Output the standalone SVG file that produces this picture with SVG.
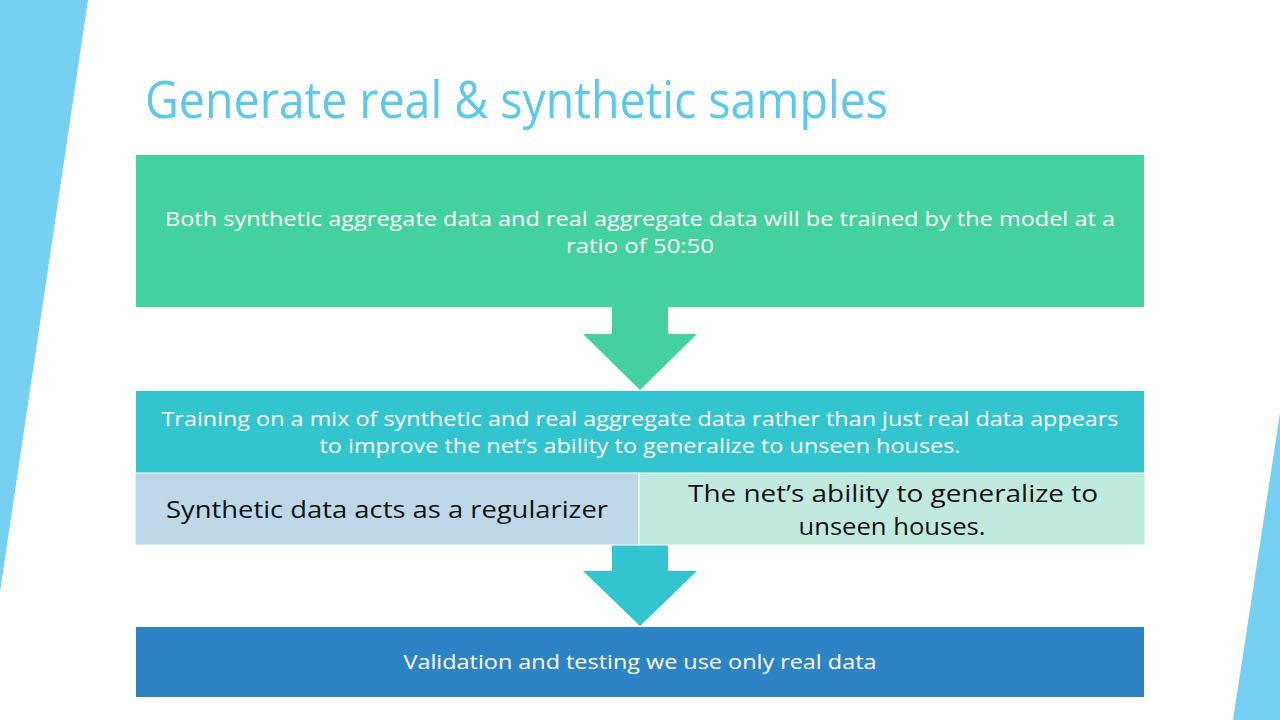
<svg xmlns="http://www.w3.org/2000/svg" width="1280" height="720" viewBox="0 0 1280 720">
  <style>
    .t { font-family: "Open Sans", "Liberation Sans", sans-serif; text-anchor: middle; }
    .w { fill: #ffffff; font-size: 20px; }
    .k { fill: #111111; font-size: 24px; }
    .title { font-family: "Open Sans", "Liberation Sans", sans-serif; fill: #5BC8EC; font-size: 52px; }
  </style>
  <rect width="1280" height="720" fill="#ffffff"/>
  <!-- side accents -->
  <polygon points="0,0 88,0 0,592" fill="#75D0F2"/>
  <polygon points="1280,413 1280,720 1233,720" fill="#75D0F2"/>

  <text class="title" x="145" y="118" textLength="743" lengthAdjust="spacingAndGlyphs">Generate real &amp; synthetic samples</text>

  <g id="connectors">
    <polygon points="612,307 668,307 668,334 697,334 640,390 583,334 612,334" fill="#43D1A0"/>
    <polygon points="612,545 668,545 668,571 697,571 640,626 583,571 612,571" fill="#33C5CF"/>
  </g>

  <g id="mix-ratio">
    <rect x="136" y="155" width="1008" height="152" fill="#43D1A0"/>
    <text class="t w" x="640" y="226" textLength="950" lengthAdjust="spacingAndGlyphs">Both synthetic aggregate data and real aggregate data will be trained by the model at a</text>
    <text class="t w" x="640" y="253" textLength="148" lengthAdjust="spacingAndGlyphs">ratio of 50:50</text>
  </g>

  <g id="training-mix">
    <rect x="136" y="391" width="1008" height="82" fill="#33C5CF"/>
    <text class="t w" x="640" y="426" textLength="957" lengthAdjust="spacingAndGlyphs">Training on a mix of synthetic and real aggregate data rather than just real data appears</text>
    <text class="t w" x="640" y="453" textLength="641" lengthAdjust="spacingAndGlyphs">to improve the net’s ability to generalize to unseen houses.</text>
  </g>

  <g id="regularizer">
    <rect x="135" y="473" width="504" height="72" fill="#BDD7E7" stroke="#ffffff" stroke-width="1"/>
    <text class="t k" x="387" y="518" textLength="442" lengthAdjust="spacingAndGlyphs">Synthetic data acts as a regularizer</text>
  </g>

  <g id="generalize">
    <rect x="639" y="473" width="506" height="72" fill="#C1EADF" stroke="#ffffff" stroke-width="1"/>
    <text class="t k" x="893" y="502" textLength="410" lengthAdjust="spacingAndGlyphs">The net’s ability to generalize to</text>
    <text class="t k" x="892" y="535" textLength="187" lengthAdjust="spacingAndGlyphs">unseen houses.</text>
  </g>

  <g id="validation">
    <rect x="136" y="627" width="1008" height="70" fill="#2E83C4"/>
    <text class="t w" x="640" y="669" textLength="473" lengthAdjust="spacingAndGlyphs">Validation and testing we use only real data</text>
  </g>
</svg>
